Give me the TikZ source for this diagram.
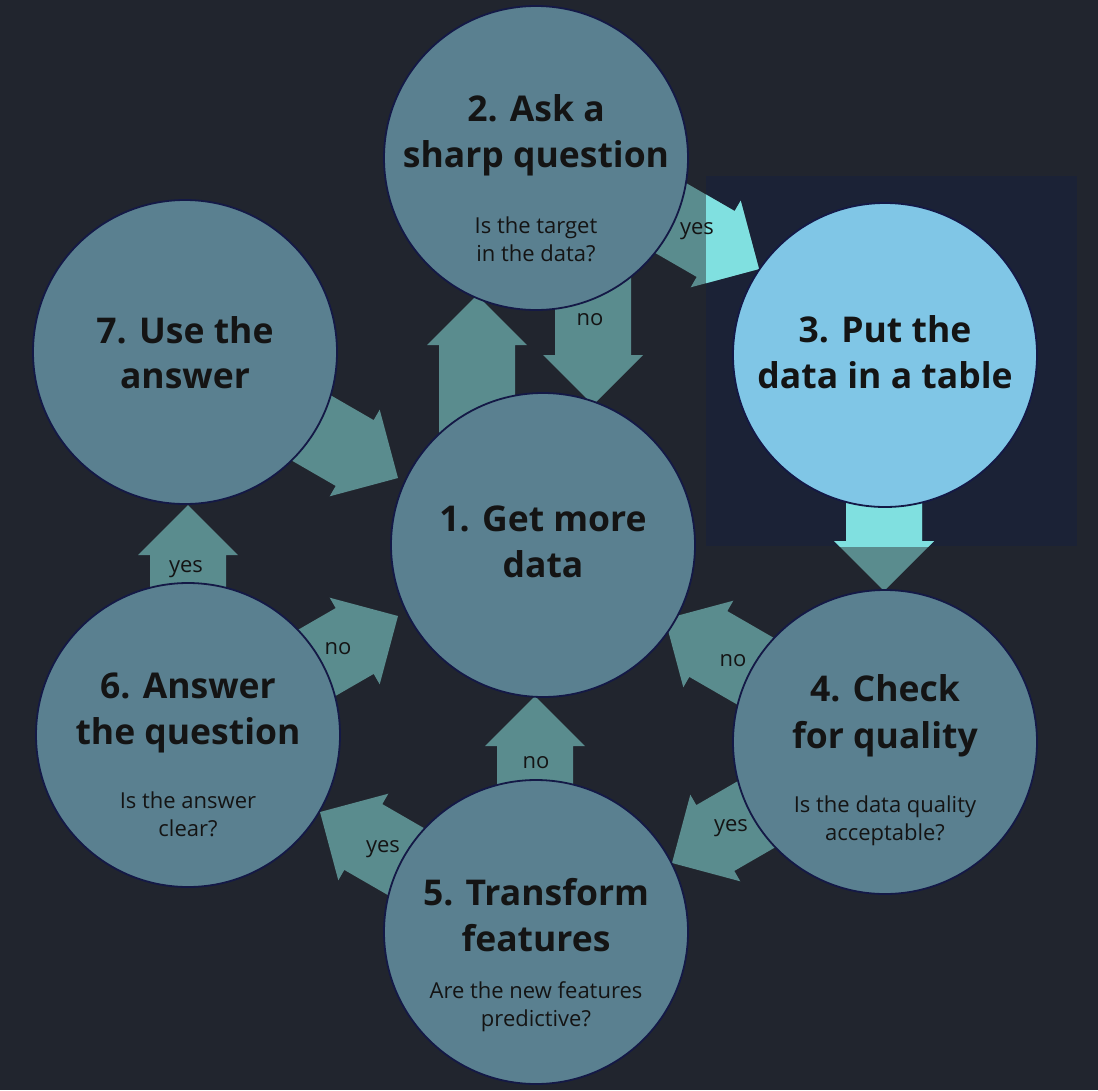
\documentclass[tikz,border=0pt]{standalone}
\usepackage{fontspec}
\setmainfont{Open Sans}
\usetikzlibrary{calc}
\definecolor{bgc}{HTML}{21252E}
\definecolor{hlc}{HTML}{1B2236}
\definecolor{circc}{HTML}{5A8090}
\definecolor{edgec}{HTML}{141946}
\definecolor{lightc}{HTML}{80C6E6}
\definecolor{arrc}{HTML}{5A8C8E}
\definecolor{cyanc}{HTML}{80E0E0}
\definecolor{txtc}{HTML}{141414}
\pgfdeclarelayer{bglayer}
\pgfdeclarelayer{arrlayer}
\pgfsetlayers{bglayer,arrlayer,main}
\newcommand\defarrow[3]{%
  \coordinate (#1s) at #2;
  \coordinate (#1t) at #3;
  \coordinate (#1h) at ($(#1t)!50pt!(#1s)$);}
\tikzset{
  blkarrow/.style={insert path={($(#1s)!38pt!90:(#1t)$) -- ($(#1h)!38pt!90:(#1t)$) -- ($(#1h)!50pt!90:(#1t)$) -- (#1t) -- ($(#1h)!50pt!-90:(#1t)$) -- ($(#1h)!38pt!-90:(#1t)$) -- ($(#1s)!38pt!-90:(#1t)$) -- cycle}},
  stage/.style={circle, draw=edgec, line width=1.8pt, fill=circc, minimum size=304pt, inner sep=0pt},
  ttl/.style={anchor=base, text=txtc, inner sep=0pt, font=\bfseries\fontsize{35.5pt}{46pt}\selectfont},
  sub/.style={anchor=base, text=txtc, inner sep=0pt, font=\fontsize{22pt}{28pt}\selectfont},
  lbl/.style={anchor=base, text=txtc, inner sep=0pt, font=\fontsize{22pt}{28pt}\selectfont}
}
\begin{document}
\begin{tikzpicture}[x=1pt, y=-1pt]
\useasboundingbox (0,0) rectangle (1098,1090);
\begin{pgfonlayer}{bglayer}
  \fill[bgc] (0,0) rectangle (1098,1090);
  \fill[hlc] (706,176) rectangle (1077,546);
\end{pgfonlayer}
% circles
\node[stage] (c1) at (543,545) {};
\node[stage] (c2) at (536,158) {};
\node[stage, fill=lightc] (c3) at (885,355) {};
\node[stage] (c4) at (885,742) {};
\node[stage] (c5) at (536,932) {};
\node[stage] (c6) at (188,735) {};
\node[stage] (c7) at (185,352) {};
% arrows geometry
\defarrow{aa}{($(c1)+(-66,-90)$)}{($(c2)+(-59,137)$)}
\defarrow{ab}{($(c2)+(57,87)$)}{($(c1)+(50,-140)$)}
\defarrow{ac}{($(c2)+(84.4,31)$)}{($(c3)+(-126,-86)$)}
\defarrow{ad}{($(c3)+(-1,76)$)}{($(c4)+(-1,-151)$)}
\defarrow{ae}{($(c4)+(-81.4,-43)$)}{($(c1)+(122,74)$)}
\defarrow{af}{($(c4)+(-74.4,41)$)}{($(c5)+(136,-69)$)}
\defarrow{ag}{($(c5)+(-1,-76)$)}{($(c1)+(-8,151)$)}
\defarrow{ah}{($(c5)+(-77.4,-40)$)}{($(c6)+(132,77)$)}
\defarrow{ai}{($(c6)+(71.4,-39)$)}{($(c1)+(-145,71)$)}
\defarrow{aj}{($(c6)+(0,-70)$)}{($(c7)+(3,153)$)}
\defarrow{ak}{($(c7)+(74.4,46)$)}{($(c1)+(-145,-67)$)}
\coordinate (hlA) at (706,176);
\coordinate (hlB) at (1077,546);
\begin{pgfonlayer}{arrlayer}
  \foreach \a in {aa,ab,ac,ad,ae,af,ag,ah,ai,aj,ak}{
    \path[fill=arrc, blkarrow=\a];
  }
  \begin{scope}
    \clip (hlA) rectangle (hlB);
    \path[fill=cyanc, blkarrow=ac];
    \path[fill=cyanc, blkarrow=ad];
  \end{scope}
\end{pgfonlayer}
% titles
\node[ttl] (t1a) at (543,531) {1. Get more};
\node[ttl] (t1b) at (543,577) {data};
\node[ttl] (t2a) at (536,121) {2. Ask a};
\node[ttl] (t2b) at (536,167) {sharp question};
\node[sub] (s2a) at (536,233) {Is the target};
\node[sub] (s2b) at (536,261) {in the data?};
\node[ttl] (t3a) at (885,342) {3. Put the};
\node[ttl] (t3b) at (885,388) {data in a table};
\node[ttl] (t4a) at (885,701) {4. Check};
\node[ttl] (t4b) at (885,748) {for quality};
\node[sub] (s4a) at (885,812) {Is the data quality};
\node[sub] (s4b) at (885,840) {acceptable?};
\node[ttl] (t5a) at (536,905) {5. Transform};
\node[ttl] (t5b) at (536,951) {features};
\node[sub] (s5a) at (536,998) {Are the new features};
\node[sub] (s5b) at (536,1026) {predictive?};
\node[ttl] (t6a) at (188,698) {6. Answer};
\node[ttl] (t6b) at (188,744) {the question};
\node[sub] (s6a) at (188,808) {Is the answer};
\node[sub] (s6b) at (188,836) {clear?};
\node[ttl] (t7a) at (185,343) {7. Use the};
\node[ttl] (t7b) at (185,388) {answer};
% labels
\node[lbl] (lac) at (697,234) {yes};
\node[lbl] (lab) at (590,325) {no};
\node[lbl] (laj) at (186,572) {yes};
\node[lbl] (lai) at (338,654) {no};
\node[lbl] (lag) at (536,768) {no};
\node[lbl] (lah) at (383,852) {yes};
\node[lbl] (laf) at (731,831) {yes};
\node[lbl] (lae) at (733,666) {no};
\end{tikzpicture}
\end{document}
